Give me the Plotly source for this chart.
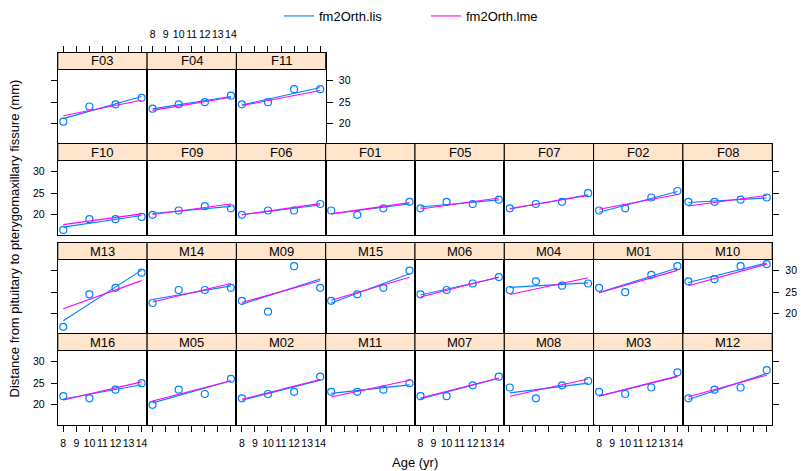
import numpy as np
import plotly.graph_objects as go

# ---------------- data ----------------
ages = [8, 10, 12, 14]
distance = {
    "M01": [26.0, 25.0, 29.0, 31.0],
    "M02": [21.5, 22.5, 23.0, 26.5],
    "M03": [23.0, 22.5, 24.0, 27.5],
    "M04": [25.5, 27.5, 26.5, 27.0],
    "M05": [20.0, 23.5, 22.5, 26.0],
    "M06": [24.5, 25.5, 27.0, 28.5],
    "M07": [22.0, 22.0, 24.5, 26.5],
    "M08": [24.0, 21.5, 24.5, 25.5],
    "M09": [23.0, 20.5, 31.0, 26.0],
    "M10": [27.5, 28.0, 31.0, 31.5],
    "M11": [23.0, 23.0, 23.5, 25.0],
    "M12": [21.5, 23.5, 24.0, 28.0],
    "M13": [17.0, 24.5, 26.0, 29.5],
    "M14": [22.5, 25.5, 25.5, 26.0],
    "M15": [23.0, 24.5, 26.0, 30.0],
    "M16": [22.0, 21.5, 23.5, 25.0],
    "F01": [21.0, 20.0, 21.5, 23.0],
    "F02": [21.0, 21.5, 24.0, 25.5],
    "F03": [20.5, 24.0, 24.5, 26.0],
    "F04": [23.5, 24.5, 25.0, 26.5],
    "F05": [21.5, 23.0, 22.5, 23.5],
    "F06": [20.0, 21.0, 21.0, 22.5],
    "F07": [21.5, 22.5, 23.0, 25.0],
    "F08": [23.0, 23.0, 23.5, 24.0],
    "F09": [20.0, 21.0, 22.0, 21.5],
    "F10": [16.5, 19.0, 19.0, 19.5],
    "F11": [24.5, 25.0, 28.0, 28.0],
}
row_layout = [
    ["F03", "F04", "F11"],
    ["F10", "F09", "F06", "F01", "F05", "F07", "F02", "F08"],
    ["M13", "M14", "M09", "M15", "M06", "M04", "M01", "M10"],
    ["M16", "M05", "M02", "M11", "M07", "M08", "M03", "M12"],
]
x_tickvals = [8, 9, 10, 11, 12, 13, 14]
x_ticktext = ["8", "9", "10", "11", "12", "13", "14"]
y_tickvals = [20, 25, 30]

# lme model estimates (fixed effects by sex at age 11, slope), random-effects sd/corr, residual sd
fixef = {"M": (24.96875, 0.784375), "F": (22.647727, 0.479545)}
sd_int, sd_slope, re_corr, sigma = 1.8303, 0.1803, 0.206, 1.3100

series_names = ["fm2Orth.lis", "fm2Orth.lme"]
col_lis, col_lme, col_pt = "#0080ff", "#ff00ff", "#0080ff"

# ---------------- fits ----------------
t = np.array(ages, float) - 11.0
D = np.array([[sd_int**2, re_corr*sd_int*sd_slope], [re_corr*sd_int*sd_slope, sd_slope**2]])
Z = np.column_stack([np.ones_like(t), t])
A = Z.T @ Z + sigma**2 * np.linalg.inv(D)

def lis_fit(y):
    slope, icpt = np.polyfit(t, y, 1)
    return icpt, slope

def lme_fit(name, y):
    b0, b1 = fixef[name[0]]
    r = np.array(y) - (b0 + b1*t)
    b = np.linalg.solve(A, Z.T @ r)
    return b0 + b[0], b1 + b[1]

# ---------------- geometry ----------------
W, H = 801, 471
X0, CW = 57.8, 89.3
row_tops = [52.5, 143.5, 242.5, 333.5]
RH, SH = 91.0, 17.0
xr = [7.58, 14.42]
yd = [15.45, 32.55]
yr = [yd[0], yd[1] + SH/(RH-SH)*(yd[1]-yd[0])]
strip_frac = (RH-SH)/RH

FONT = "Liberation Sans, Arial, sans-serif"
TICKSIZE = 10.5
fig = go.Figure()
shapes, annotations = [], []
layout = {}
k = 0
nrows = len(row_layout)
for r, row in enumerate(row_layout):
    for c, subj in enumerate(row):
        k += 1
        xa = "x" if k == 1 else f"x{k}"
        ya = "y" if k == 1 else f"y{k}"
        y = distance[subj]
        fig.add_trace(go.Scatter(x=ages, y=y, mode="markers", xaxis=xa, yaxis=ya,
                                 marker=dict(symbol="circle-open", size=7, color=col_pt,
                                             line=dict(width=1.2, color=col_pt)),
                                 showlegend=False, hoverinfo="skip"))
        for nm, fit, col in ((series_names[0], lis_fit(y), col_lis),
                             (series_names[1], lme_fit(subj, y), col_lme)):
            icpt, slope = fit
            xs = [ages[0], ages[-1]]
            ys = [icpt + slope*(a-11) for a in xs]
            fig.add_trace(go.Scatter(x=xs, y=ys, mode="lines", xaxis=xa, yaxis=ya,
                                     line=dict(color=col, width=1.1), name=nm,
                                     legendgroup=nm, showlegend=(k == 1), hoverinfo="skip"))
        left = X0 + c*CW
        top = row_tops[r]
        xkey = "xaxis" if k == 1 else f"xaxis{k}"
        ykey = "yaxis" if k == 1 else f"yaxis{k}"
        xopts = dict(domain=[left/W, (left+CW)/W], range=xr, anchor=ya,
                     showline=True, mirror=True, linecolor="black", linewidth=1,
                     showgrid=False, zeroline=False, tickvals=x_tickvals, ticktext=x_ticktext,
                     tickangle=0, ticks="", showticklabels=False, ticklen=6, tickcolor="black",
                     tickfont=dict(size=TICKSIZE, color="black", family=FONT), ticklabelstandoff=3)
        if r == 0:
            xopts.update(side="top", ticks="outside", showticklabels=(c % 2 == 1))
        if r == nrows-1:
            xopts.update(side="bottom", ticks="outside", showticklabels=(c % 2 == 0))
        yopts = dict(domain=[1-(top+RH)/H, 1-top/H], range=yr, anchor=xa,
                     showline=True, mirror=True, linecolor="black", linewidth=1,
                     showgrid=False, zeroline=False, tickvals=y_tickvals,
                     ticks="", showticklabels=False, ticklen=6, tickcolor="black",
                     tickfont=dict(size=TICKSIZE, color="black", family=FONT), ticklabelstandoff=4)
        # rows counted from bottom: labels left on 1st/3rd, right on 2nd/4th
        rb = nrows - 1 - r
        if c == 0:
            yopts.update(side="left", ticks="outside", showticklabels=(rb % 2 == 0))
        if c == len(row)-1:
            yopts.update(side="right", ticks="outside", showticklabels=(rb % 2 == 1))
        layout[xkey] = xopts
        layout[ykey] = yopts
        shapes.append(dict(type="rect", xref=f"{xa} domain", yref=f"{ya} domain",
                           x0=0, x1=1, y0=strip_frac, y1=1, fillcolor="#ffe5cc",
                           line=dict(color="black", width=1), layer="above"))
        annotations.append(dict(text=subj, xref=f"{xa} domain", yref=f"{ya} domain",
                                x=0.5, y=(strip_frac+1)/2, showarrow=False,
                                xanchor="center", yanchor="middle",
                                font=dict(size=13, color="black", family=FONT)))

annotations.append(dict(text="Age (yr)", xref="paper", yref="paper",
                        x=(X0+4*CW)/W, y=1-462/H, showarrow=False,
                        xanchor="center", yanchor="middle",
                        font=dict(size=13, color="black", family=FONT)))
annotations.append(dict(text="Distance from pituitary to pterygomaxillary fissure (mm)",
                        xref="paper", yref="paper", x=14/W, y=1-238.5/H, textangle=-90,
                        xanchor="center", yanchor="middle",
                        showarrow=False, font=dict(size=13, color="black", family=FONT)))

fig.update_layout(
    width=W, height=H, margin=dict(l=0, r=0, t=0, b=0),
    paper_bgcolor="white", plot_bgcolor="white",
    font=dict(family=FONT, color="black"),
    shapes=shapes, annotations=annotations,
    showlegend=True,
    legend=dict(orientation="h", x=279/W, xanchor="left", y=1-1/H, yanchor="top",
                font=dict(size=13, family=FONT, color="black"), itemwidth=30,
                entrywidth=102, bgcolor="rgba(0,0,0,0)"),
    **layout,
)
fig.write_html("out.html")
